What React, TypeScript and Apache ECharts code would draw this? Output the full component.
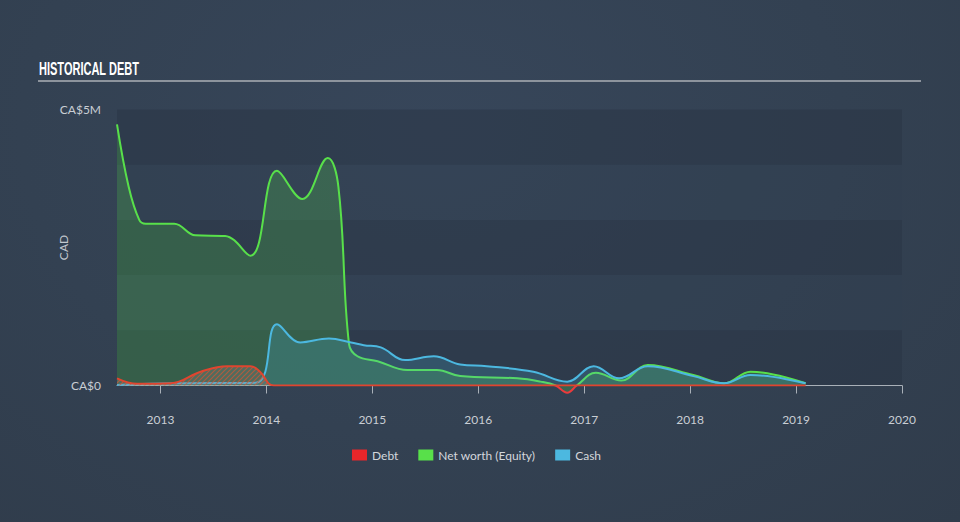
import React, { useEffect, useRef } from "react";
import * as echarts from "echarts";

// decimal years, values in CAD millions
const equityX = [2012.59, 2012.70, 2012.80, 2012.86, 2013.13, 2013.33, 2013.61, 2013.85, 2014.10, 2014.34, 2014.58, 2014.68, 2014.78, 2014.86, 2015.05, 2015.33, 2015.61, 2015.83, 2016.37, 2016.59, 2016.73, 2016.84, 2016.93, 2017.11, 2017.35, 2017.60, 2018.03, 2018.32, 2018.57, 2019.09];
const equityY = [4.73, 3.6, 3.0, 2.93, 2.93, 2.72, 2.71, 2.35, 3.89, 3.38, 4.12, 3.6, 0.75, 0.53, 0.44, 0.28, 0.28, 0.17, 0.13, 0.07, 0.0, -0.13, 0.0, 0.23, 0.09, 0.37, 0.19, 0.04, 0.25, 0.04];

const cashX = [2012.59, 2013.16, 2013.90, 2014.10, 2014.32, 2014.59, 2014.80, 2014.92, 2015.08, 2015.31, 2015.58, 2015.83, 2016.08, 2016.52, 2016.84, 2017.09, 2017.33, 2017.60, 2018.03, 2018.32, 2018.57, 2019.09];
const cashY = [0.01, 0.04, 0.05, 1.11, 0.78, 0.85, 0.78, 0.73, 0.69, 0.46, 0.53, 0.38, 0.35, 0.25, 0.07, 0.35, 0.13, 0.35, 0.17, 0.04, 0.19, 0.04];

const debtX = [2012.59, 2012.78, 2013.10, 2013.38, 2013.63, 2013.85, 2013.94, 2014.07, 2019.09];
const debtY = [0.13, 0.03, 0.04, 0.25, 0.35, 0.35, 0.25, 0, 0];

const yearTicks = [2013, 2014, 2015, 2016, 2017, 2018, 2019, 2020];
const seriesNames = ["Debt", "Net worth (Equity)", "Cash"];

const zip = (xs: number[], ys: number[]) => xs.map((x, i) => [x, ys[i]]);

function makeHatch(): string {
  const c = document.createElement("canvas");
  c.width = 5;
  c.height = 5;
  const g = c.getContext("2d")!;
  g.fillStyle = "rgba(140,140,140,0.35)";
  g.fillRect(0, 0, 5, 5);
  g.strokeStyle = "rgba(205,90,60,0.9)";
  g.lineWidth = 1.2;
  g.beginPath();
  g.moveTo(-1, 6);
  g.lineTo(6, -1);
  g.moveTo(-4, 4);
  g.lineTo(4, -4);
  g.moveTo(1, 9);
  g.lineTo(9, 1);
  g.stroke();
  return c.toDataURL();
}

export default function App() {
  const ref = useRef<HTMLDivElement>(null);
  useEffect(() => {
    if (!ref.current) return;
    const chart = echarts.init(ref.current, undefined, { renderer: "svg" });
    const hatch = makeHatch();
    const font = "Lato";
    chart.setOption({
      animation: false,
      backgroundColor: "transparent",
      textStyle: { fontFamily: font },
      graphic: [
        {
          type: "text",
          x: 39,
          y: 59,
          scaleX: 0.58,
          style: {
            text: "HISTORICAL DEBT",
            fill: "#ffffff",
            font: "bold 19px 'Liberation Sans Narrow', 'Liberation Sans', sans-serif",
            verticalAlign: "top",
          },
        },
        {
          type: "line",
          shape: { x1: 38, y1: 81, x2: 921, y2: 81 },
          style: { stroke: "#8d949d", lineWidth: 2 },
        },
      ],
      grid: {
        left: 117,
        right: 58,
        top: 109.5,
        bottom: 136.5,
        containLabel: false,
      },
      legend: {
        data: seriesNames,
        left: 347,
        top: 444,
        itemWidth: 15,
        itemHeight: 11,
        itemGap: 20,
        icon: "rect",
        textStyle: { color: "#d3d7dc", fontSize: 12, fontFamily: font },
      },
      visualMap: {
        type: "piecewise",
        show: false,
        seriesIndex: 0,
        dimension: 1,
        pieces: [
          { min: -5, max: 0, color: "#ec3a3c" },
          { min: 0, max: 10, color: "#58e04a" },
        ],
      },
      xAxis: {
        type: "value",
        min: 2012.59,
        max: 2020,
        offset: 20.5,
        axisLine: { show: true, lineStyle: { color: "#a9b0b8", width: 1 } },
        axisTick: { show: true, length: 8, customValues: yearTicks, lineStyle: { color: "#a9b0b8" } },
        axisLabel: {
          customValues: yearTicks,
          color: "#c9ced4",
          fontSize: 12,
          margin: 7,
          fontFamily: font,
          formatter: (v: number) => String(Math.round(v)),
        },
        splitLine: { show: false },
      },
      yAxis: {
        type: "value",
        min: 0,
        max: 5,
        interval: 1,
        name: "CAD",
        nameLocation: "middle",
        nameGap: 48,
        nameMoveOverlap: false,
        nameTextStyle: { color: "#c3c8ce", fontSize: 12, fontFamily: font },
        axisLine: { show: false },
        axisTick: { show: false },
        axisLabel: {
          color: "#c9ced4",
          fontSize: 12,
          margin: 16,
          fontFamily: font,
          formatter: (v: number) => (v === 0 ? "CA$0" : v === 5 ? "CA$5M" : ""),
        },
        splitLine: {
          show: true,
          lineStyle: {
            color: ["#c8cdd3", "transparent", "transparent", "transparent", "transparent", "transparent"],
            width: 1,
          },
        },
        splitArea: {
          show: true,
          areaStyle: { color: ["rgba(40,52,66,0.45)", "rgba(50,64,80,0.35)"] },
        },
      },
      series: [
        {
          name: "Net worth (Equity)",
          type: "line",
          data: zip(equityX, equityY),
          smooth: 0.4,
          clip: false,
          showSymbol: false,
          symbol: "none",
          color: "#58e04a",
          lineStyle: { width: 2 },
          areaStyle: { color: "rgba(88,225,75,0.22)", opacity: 1 },
          z: 2,
        },
        {
          name: "Cash",
          type: "line",
          data: zip(cashX, cashY),
          smooth: 0.4,
          showSymbol: false,
          symbol: "none",
          color: "#4cb8e0",
          lineStyle: { width: 2, color: "#4cb8e0" },
          areaStyle: { color: "rgba(76,184,224,0.2)", opacity: 1 },
          z: 3,
        },
        {
          name: "Debt",
          type: "line",
          data: zip(debtX, debtY),
          smooth: 0.4,
          showSymbol: false,
          symbol: "none",
          color: "#e8262a",
          lineStyle: { width: 2, color: "#e0452f" },
          areaStyle: { color: { image: hatch, repeat: "repeat" }, opacity: 0.85 },
          z: 4,
        },
      ],
    });
    return () => chart.dispose();
  }, []);
  return (
    <div
      style={{
        position: "absolute",
        left: 0,
        top: 0,
        width: 960,
        height: 522,
        background: "radial-gradient(ellipse at 45% 25%, #37465a 0%, #334152 55%, #303c4b 100%)",
      }}
    >
      <div ref={ref} style={{ width: 960, height: 522 }} />
    </div>
  );
}
